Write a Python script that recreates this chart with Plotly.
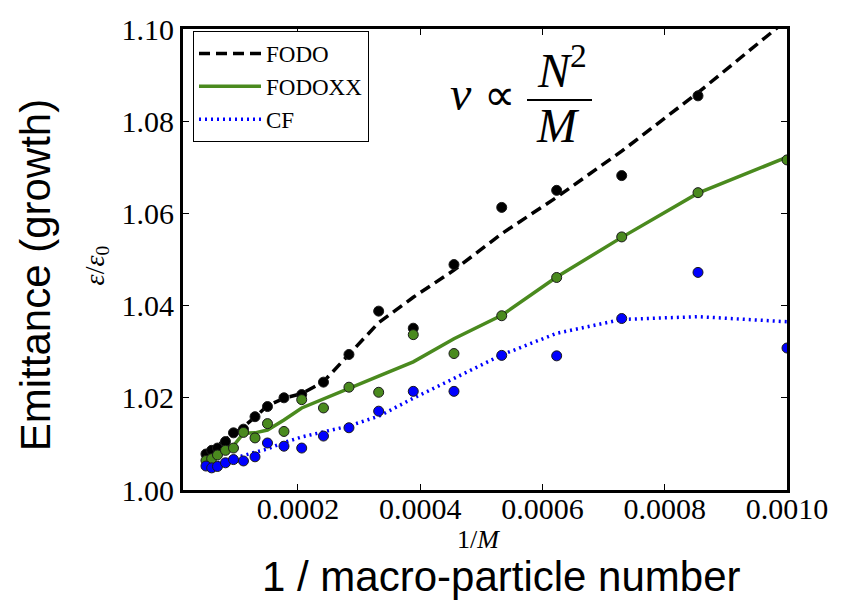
import plotly.graph_objects as go

# 1/M positions (shared by all series)
inv_m = [4.95e-5, 5.88e-5, 6.83e-5, 8.14e-5, 9.45e-5, 1.108e-4, 1.297e-4, 1.501e-4,
         1.771e-4, 2.061e-4, 2.417e-4, 2.834e-4, 3.320e-4, 3.886e-4, 4.552e-4,
         5.333e-4, 6.232e-4, 7.296e-4, 8.544e-4, 1.0e-3]

# measured emittance growth (points)
fodo_pts = [1.0078, 1.0086, 1.0091, 1.0105, 1.0124, 1.0132, 1.0159, 1.0181, 1.0200,
            1.0207, 1.0234, 1.0294, 1.0388, 1.0351, 1.0489, 1.0613, 1.0650, 1.0682,
            1.0855, None]
fodoxx_pts = [1.0064, 1.0068, 1.0076, 1.0086, 1.0091, 1.0125, 1.0113, 1.0144, 1.0127,
              1.0196, 1.0178, 1.0223, 1.0212, 1.0337, 1.0296, 1.0378, 1.0461, 1.0549,
              1.0645, 1.0716]
cf_pts = [1.0052, 1.0048, 1.0051, 1.0059, 1.0066, 1.0063, 1.0072, 1.0102, 1.0095,
          1.0091, 1.0117, 1.0135, 1.0171, 1.0214, 1.0214, 1.0292, 1.0291, 1.0372,
          1.0472, 1.0308]

# smoothed curves
fodo_fit = [1.0079, 1.0088, 1.0097, 1.0109, 1.0122, 1.0137, 1.0158, 1.0183, 1.0199,
            1.0209, 1.0235, 1.0295, 1.0363, 1.0418, 1.0477, 1.0556, 1.0635, 1.0735,
            1.0862, 1.1020]
fodoxx_fit = [1.0062, 1.0067, 1.0077, 1.0086, 1.0096, 1.0123, 1.0124, 1.0130, 1.0152,
              1.0178, 1.0197, 1.0221, 1.0247, 1.0278, 1.0328, 1.0379, 1.0462, 1.0548,
              1.0644, 1.0722]
cf_fit = [1.0053, 1.0056, 1.0059, 1.0063, 1.0068, 1.0075, 1.0081, 1.0089, 1.0103,
          1.0115, 1.0126, 1.0139, 1.0160, 1.0199, 1.0242, 1.0293, 1.0340, 1.0370,
          1.0376, 1.0365]

x_ticks = [0.0002, 0.0004, 0.0006, 0.0008, 0.0010]
y_ticks = [1.00, 1.02, 1.04, 1.06, 1.08, 1.10]

BLACK = "#000000"
GREEN = "#4a8a1e"
BLUE = "#0000ff"
SERIF = "Liberation Serif"
SANS = "Liberation Sans"

fig = go.Figure()

fig.add_trace(go.Scatter(x=inv_m, y=fodo_fit, mode="lines", name="FODO",
                         legendgroup="a", line=dict(color=BLACK, width=3.5, dash="11px,6px")))
fig.add_trace(go.Scatter(x=inv_m, y=fodoxx_fit, mode="lines", name="FODOXX",
                         legendgroup="b", line=dict(color=GREEN, width=3.5)))
fig.add_trace(go.Scatter(x=inv_m, y=cf_fit, mode="lines", name="CF",
                         legendgroup="c", line=dict(color=BLUE, width=3.5, dash="2px,4px")))

for ys, col in [(fodo_pts, BLACK), (fodoxx_pts, GREEN), (cf_pts, BLUE)]:
    fig.add_trace(go.Scatter(x=inv_m, y=ys, mode="markers", showlegend=False,
                             marker=dict(color=col, size=10,
                                         line=dict(color="#1a1a1a", width=1))))

fig.update_xaxes(range=[1.19e-5, 0.001], tickvals=x_ticks, tickformat=".4f",
                 ticks="inside", ticklen=6, tickwidth=1, tickcolor="black",
                 showline=True, linecolor="black", linewidth=3, mirror="ticks",
                 showgrid=False, zeroline=False, ticklabelstandoff=-10,
                 tickfont=dict(family=SERIF, size=30, color="black"))
fig.update_yaxes(range=[1.0, 1.1], tickvals=y_ticks, tickformat=".2f",
                 ticks="inside", ticklen=6, tickwidth=1, tickcolor="black",
                 showline=True, linecolor="black", linewidth=3, mirror="ticks",
                 showgrid=False, zeroline=False,
                 tickfont=dict(family=SERIF, size=30, color="black"))

def px2x(px):
    return (px - 183) / 604.0

def py2y(py):
    return (490 - py) / 468.0

annos = [
    dict(text="Emittance (growth)", x=px2x(35), y=py2y(272), textangle=-90,
         font=dict(family=SANS, size=42, color="black")),
    dict(text="<i>ε</i>/<i>ε</i><sub>0</sub>", x=px2x(96), y=py2y(262), textangle=-90,
         font=dict(family=SERIF, size=28, color="black")),
    dict(text="1/<i>M</i>", x=px2x(478), y=py2y(540),
         font=dict(family=SERIF, size=26, color="black")),
    dict(text="1 / macro-particle number", x=px2x(501), y=py2y(578),
         font=dict(family=SANS, size=42, color="black")),
    dict(text="<i>ν</i>", x=px2x(461), y=py2y(87),
         font=dict(family=SERIF, size=48, color="black")),
    dict(text="∝", x=px2x(499), y=py2y(90),
         font=dict(family=SERIF, size=44, color="black")),
    dict(text="<i>N</i><sup>2</sup>", x=px2x(562), y=py2y(61),
         font=dict(family=SERIF, size=48, color="black")),
    dict(text="<i>M</i>", x=px2x(558), y=py2y(120),
         font=dict(family=SERIF, size=48, color="black")),
]
for a in annos:
    a.update(xref="paper", yref="paper", showarrow=False, xanchor="center", yanchor="middle")
fig.update_layout(annotations=annos)

fig.add_shape(type="line", xref="paper", yref="paper",
              x0=px2x(527), x1=px2x(592), y0=py2y(94), y1=py2y(94),
              line=dict(color="black", width=2))

fig.update_layout(
    width=852, height=600,
    margin=dict(l=183, r=65, t=22, b=110),
    paper_bgcolor="white", plot_bgcolor="white",
    showlegend=True,
    legend=dict(x=px2x(193), y=py2y(24), xanchor="left", yanchor="top",
                bgcolor="white", bordercolor="black", borderwidth=1,
                font=dict(family=SERIF, size=23, color="black"),
                tracegroupgap=0, itemwidth=62),
)

fig.write_html("out.html")
